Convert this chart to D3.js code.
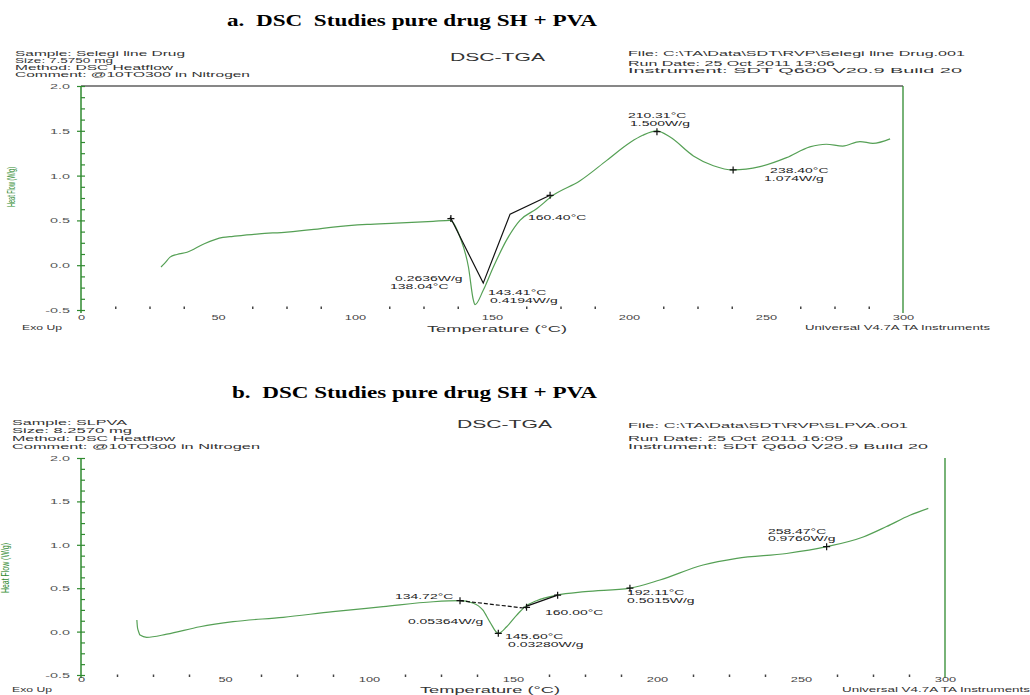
<!DOCTYPE html>
<html>
<head>
<meta charset="utf-8">
<script src="https://cdn.jsdelivr.net/npm/d3@7"></script>
<style>
  body { margin: 0; background: #fff; }
  svg { display: block; }
  text { white-space: pre; }
</style>
</head>
<body>
<div id="chart"></div>
<script>
// ---- panel a: pure drug (Selegiline) ----
const tempA = [29.2, 30.5, 32.5, 35, 38.7, 45, 51.8, 55.5, 65, 75.2, 85, 92, 104.4, 115, 128.5, 134.7,
  135.3, 138.3, 141.4, 143.2, 143.8, 146.8, 150.5, 155.3, 160.2, 166.3, 172.3, 182, 191.9, 200.4, 205,
  210.1, 215, 223.5, 230.8, 238, 247.8, 257.5, 266, 272, 278, 284.3, 289, 295.3];
const flowA = [-0.02, 0.02, 0.09, 0.12, 0.144, 0.24, 0.31, 0.322, 0.35, 0.37, 0.40, 0.426, 0.456, 0.47, 0.49, 0.50,
  0.49, 0.315, -0.02, -0.39, -0.44, -0.28, -0.02, 0.28, 0.50, 0.63, 0.78, 0.94, 1.17, 1.37, 1.45,
  1.50, 1.43, 1.22, 1.11, 1.063, 1.10, 1.20, 1.32, 1.35, 1.33, 1.38, 1.36, 1.41];
const tangentTempA = [134.7, 146.8, 156.6, 171.2];
const tangentFlowA = [0.54, -0.20, 0.57, 0.78];
const markTempA = [135.0, 171.2, 210.2, 238.0];
const markFlowA = [0.52, 0.78, 1.49, 1.063];
const noteTextA = ["0.2636W/g", "138.04°C", "143.41°C", "0.4194W/g", "160.40°C", "210.31°C", "1.500W/g", "238.40°C", "1.074W/g"];
const noteTempA = [114.6, 112.8, 148.5, 149.3, 163.1, 199.6, 200.4, 251.5, 249.3];
const noteFlowA = [-0.18, -0.27, -0.33, -0.42, 0.50, 1.64, 1.55, 1.03, 0.94];
const sampleA = ["Sample: Selegi line Drug", "Size: 7.5750 mg", "Method: DSC Heatflow", "Comment: @10TO300 in Nitrogen"];
const runA = ["File: C:\\TA\\Data\\SDT\\RVP\\Selegi line Drug.001", "Run Date: 25 Oct 2011 13:06", "Instrument: SDT Q600 V20.9 Build 20"];

// ---- panel b: SH + PVA ----
const tempB = [19.4, 19.6, 20.0, 20.5, 22.8, 29.8, 41.3, 52.8, 70.2, 87.5, 104.9, 122.3, 131.6, 136.0, 139.5,
  142.0, 144.9, 147.8, 151.3, 154.2, 158.2, 165.2, 175, 190.6, 201, 216, 227.7, 245, 258.9, 271.6, 279.7, 287.8, 294.2];
const flowB = [0.134, 0.05, 0.0, -0.04, -0.066, -0.03, 0.056, 0.114, 0.165, 0.23, 0.287, 0.344, 0.356, 0.33, 0.25,
  0.11, -0.02, 0.056, 0.19, 0.287, 0.356, 0.42, 0.46, 0.50, 0.594, 0.767, 0.844, 0.90, 0.978, 1.09, 1.21, 1.34, 1.42];
const baseTempB = [131.6, 154.7];
const baseFlowB = [0.356, 0.268];
const tangentTempB = [154.5, 165.5];
const tangentFlowB = [0.29, 0.42];
const markTempB = [131.6, 144.9, 154.7, 165.5, 190.6, 258.9];
const markFlowB = [0.356, -0.02, 0.28, 0.42, 0.50, 0.978];
const noteTextB = ["134.72°C", "0.05364W/g", "145.60°C", "0.03280W/g", "160.00°C", "192.11°C", "0.5015W/g", "258.47°C", "0.9760W/g"];
const noteTempB = [109, 113.5, 147.2, 148.3, 161.1, 189.6, 189.6, 238.5, 238.5];
const noteFlowB = [0.376, 0.088, -0.09, -0.18, 0.19, 0.42, 0.33, 1.13, 1.04];
const sampleB = ["Sample: SLPVA", "Size: 8.2570 mg", "Method: DSC Heatflow", "Comment: @10TO300 in Nitrogen"];
const runB = ["File: C:\\TA\\Data\\SDT\\RVP\\SLPVA.001", "Run Date: 25 Oct 2011 16:09", "Instrument: SDT Q600 V20.9 Build 20"];

// shared axis ticks
const xTicks = [0, 50, 100, 150, 200, 250, 300];
const yTicks = [-0.5, 0.0, 0.5, 1.0, 1.5, 2.0];
const yTickLabels = ["-0.5", "0.0", "0.5", "1.0", "1.5", "2.0"];

const axisGreen = "#2f8a2f";
const curveGreen = "#55a055";
const textGrey = "#333";

const svg = d3.select("#chart").append("svg")
    .attr("width", 1030)
    .attr("height", 695);

// text that is stretched sideways like the scanned instrument printout
function addText(g, str, x, y, o = {}) {
    const sx = o.sx || 1;
    const t = g.append("text")
        .attr("transform", `translate(${x},${y}) scale(${sx},1)`)
        .attr("font-family", o.family || "'Liberation Sans', Arial, sans-serif")
        .attr("font-size", o.size || 8)
        .attr("font-weight", o.weight || "normal")
        .attr("fill", o.fill || textGrey)
        .attr("text-anchor", o.anchor || "start")
        .text(str);
    if (o.width) t.attr("textLength", o.width / sx).attr("lengthAdjust", "spacingAndGlyphs");
    return t;
}

function drawPanel(p) {
    const x = d3.scaleLinear().domain([0, 300]).range([p.left, p.right]);
    const y = d3.scaleLinear().domain([-0.5, 2.0]).range([p.bottom, p.top]);
    const g = svg.append("g");

    // headings
    addText(g, p.title, p.titleX, p.titleY, {
        family: "'Liberation Serif', 'Times New Roman', serif", size: 17, weight: "bold", fill: "#000", width: p.titleW
    });
    p.sample.forEach((s, i) => addText(g, s, p.sampleX, p.sampleY[i], {size: 7, width: p.sampleW[i]}));
    p.run.forEach((s, i) => addText(g, s, p.runX, p.runY[i], {size: 7, width: p.runW[i]}));
    addText(g, "DSC-TGA", p.dscX, p.dscY, {size: 11, width: 95});

    // frame
    if (p.border) {
        g.append("line")
            .attr("x1", p.left).attr("x2", p.right)
            .attr("y1", p.top).attr("y2", p.top)
            .attr("stroke", "#111").attr("stroke-width", 1.2);
    }
    g.append("line")
        .attr("x1", p.right).attr("x2", p.right)
        .attr("y1", p.top).attr("y2", p.bottom + 3)
        .attr("stroke", axisGreen).attr("stroke-width", 1.3);

    // y axis
    const ya = g.append("g")
        .attr("transform", `translate(${p.left},0)`)
        .call(d3.axisLeft(y).tickValues(yTicks).tickSize(4).tickFormat((d, i) => yTickLabels[i]));
    ya.select(".domain").remove();
    ya.selectAll(".tick line").attr("stroke", axisGreen).attr("stroke-width", 1.2);
    ya.selectAll(".tick text")
        .attr("font-family", "'Liberation Sans', Arial, sans-serif")
        .attr("font-size", 8)
        .attr("fill", "#555")
        .attr("transform", "scale(1.8,1)")
        .attr("x", -11 / 1.8);

    const yMinor = g.append("g")
        .attr("transform", `translate(${p.left},0)`)
        .call(d3.axisRight(y).tickValues(d3.range(-0.5, 2.001, 0.125)).tickSize(4).tickFormat(""));
    yMinor.select(".domain").remove();
    yMinor.selectAll(".tick line").attr("stroke", axisGreen).attr("stroke-width", 1.2);

    g.append("line")
        .attr("x1", p.left).attr("x2", p.left)
        .attr("y1", p.top).attr("y2", p.bottom + 3)
        .attr("stroke", axisGreen).attr("stroke-width", 1.5);

    // x axis: labels plus small dot ticks
    const xa = g.append("g")
        .attr("transform", `translate(0,${p.bottom})`)
        .call(d3.axisBottom(x).tickValues(xTicks).tickSize(0));
    xa.select(".domain").remove();
    xa.selectAll(".tick text")
        .attr("font-family", "'Liberation Sans', Arial, sans-serif")
        .attr("font-size", 8)
        .attr("fill", "#444")
        .attr("y", p.tickLabelY - p.bottom)
        .attr("dy", 0)
        .attr("transform", "scale(1.6,1)");

    const xMinor = g.append("g")
        .attr("transform", `translate(0,${p.bottom + p.dotShift})`)
        .call(d3.axisBottom(x).tickValues(d3.range(12.5, 300, 12.5).filter(d => d % 50 !== 0))
            .tickSizeInner(-2.5).tickSizeOuter(0).tickFormat(""));
    xMinor.select(".domain").remove();
    xMinor.selectAll(".tick line").attr("stroke", "#444").attr("stroke-width", 1.5);

    // axis captions
    addText(g, "Exo Up", p.exoX, p.exoY, {size: 8, width: 40});
    addText(g, "Temperature (°C)", p.tempX, p.tempY, {size: 9, width: 140});
    addText(g, "Universal V4.7A TA Instruments", p.univX, p.univY, {size: 8, width: p.univW});
    g.append("text")
        .attr("transform", `translate(${p.ylabX},${p.ylabY}) rotate(-90)`)
        .attr("text-anchor", "middle")
        .attr("font-family", "'Liberation Sans Narrow', 'Liberation Sans', Arial, sans-serif")
        .attr("font-size", 11)
        .attr("fill", axisGreen)
        .attr("textLength", p.ylabLen)
        .attr("lengthAdjust", "spacingAndGlyphs")
        .text("Heat Flow (W/g)");

    // the DSC curve
    const line = d3.line()
        .x(i => x(p.temp[i]))
        .y(i => y(p.flow[i]))
        .curve(d3.curveMonotoneX);
    g.append("path")
        .datum(d3.range(p.temp.length))
        .attr("fill", "none")
        .attr("stroke", curveGreen)
        .attr("stroke-width", 1.2)
        .attr("d", line);

    // analysis construction lines
    p.guides.forEach(gd => {
        const gl = d3.line().x(i => x(gd.t[i])).y(i => y(gd.f[i]));
        g.append("path")
            .datum(d3.range(gd.t.length))
            .attr("fill", "none")
            .attr("stroke", "#111")
            .attr("stroke-width", 1.2)
            .attr("stroke-dasharray", gd.dash || null)
            .attr("d", gl);
    });

    // small cross markers
    p.markT.forEach((t, i) => {
        const cx = x(t), cy = y(p.markF[i]);
        g.append("path")
            .attr("d", `M${cx - 3.5},${cy}H${cx + 3.5}M${cx},${cy - 3.5}V${cy + 3.5}`)
            .attr("stroke", "#111")
            .attr("stroke-width", 1.2);
    });

    // annotations
    p.noteText.forEach((s, i) => {
        addText(g, s, x(p.noteT[i]), y(p.noteF[i]), {size: 7, sx: 2.0, fill: "#222"});
    });
}

drawPanel({
    left: 81, right: 903, top: 86, bottom: 310, border: true,
    title: "a.  DSC  Studies pure drug SH + PVA", titleX: 227, titleY: 26, titleW: 370,
    sample: sampleA, sampleX: 15, sampleY: [55.5, 62.5, 69.5, 76.5], sampleW: [170, 98, 158, 235],
    run: runA, runX: 628, runY: [56, 66, 73], runW: [337, 207, 334],
    dscX: 450, dscY: 61,
    tickLabelY: 320, dotShift: -1,
    exoX: 22, exoY: 330, tempX: 427, tempY: 332, univX: 805, univY: 330, univW: 185,
    ylabX: 15, ylabY: 187, ylabLen: 40,
    temp: tempA, flow: flowA,
    guides: [{t: tangentTempA, f: tangentFlowA}],
    markT: markTempA, markF: markFlowA,
    noteText: noteTextA, noteT: noteTempA, noteF: noteFlowA
});

drawPanel({
    left: 81, right: 945, top: 458, bottom: 675, border: false,
    title: "b.  DSC Studies pure drug SH + PVA", titleX: 232, titleY: 398, titleW: 365,
    sample: sampleB, sampleX: 12, sampleY: [425, 433, 441, 449], sampleW: [115, 120, 163, 248],
    run: runB, runX: 628, runY: [428, 441, 449], runW: [280, 215, 300],
    dscX: 457, dscY: 428,
    tickLabelY: 682, dotShift: 2,
    exoX: 12, exoY: 692, tempX: 420, tempY: 693, univX: 842, univY: 692, univW: 188,
    ylabX: 9, ylabY: 568, ylabLen: 50,
    temp: tempB, flow: flowB,
    guides: [{t: baseTempB, f: baseFlowB, dash: "4,2"}, {t: tangentTempB, f: tangentFlowB}],
    markT: markTempB, markF: markFlowB,
    noteText: noteTextB, noteT: noteTempB, noteF: noteFlowB
});
</script>
</body>
</html>
